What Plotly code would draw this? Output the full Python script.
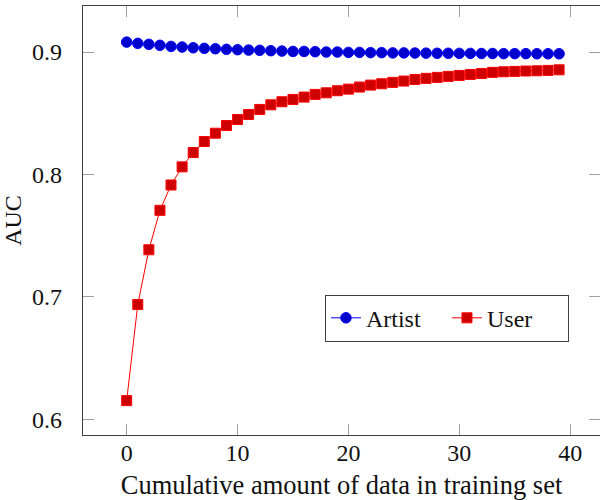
import plotly.graph_objects as go

# Cumulative amount of training data (x) and AUC per model
steps = list(range(40))

artist_auc = [
    0.9081, 0.9071, 0.9063, 0.9055, 0.9046, 0.9041, 0.9035, 0.9030, 0.9027, 0.9022,
    0.9019, 0.9016, 0.9014, 0.9011, 0.9008, 0.9005, 0.9005, 0.9003, 0.9000, 0.9000,
    0.8997, 0.8997, 0.8995, 0.8995, 0.8993, 0.8993, 0.8992, 0.8991, 0.8990, 0.8990,
    0.8989, 0.8989, 0.8988, 0.8988, 0.8987, 0.8987, 0.8987, 0.8986, 0.8986, 0.8986,
]

user_auc = [
    0.6153, 0.6938, 0.7385, 0.7707, 0.7914, 0.8062, 0.8179, 0.8269, 0.8337, 0.8400,
    0.8449, 0.8490, 0.8531, 0.8569, 0.8594, 0.8613, 0.8632, 0.8654, 0.8667, 0.8684,
    0.8697, 0.8714, 0.8730, 0.8741, 0.8752, 0.8763, 0.8776, 0.8785, 0.8793, 0.8801,
    0.8809, 0.8817, 0.8825, 0.8834, 0.8839, 0.8842, 0.8845, 0.8847, 0.8850, 0.8855,
]

x_ticks = [0, 10, 20, 30, 40]
y_ticks = [0.6, 0.7, 0.8, 0.9]
y_tick_text = ["0.6", "0.7", "0.8", "0.9"]

FONT = "Liberation Serif"

fig = go.Figure()
fig.add_trace(go.Scatter(
    x=steps, y=artist_auc, name="Artist", mode="lines+markers",
    line=dict(color="#0000ff", width=1),
    marker=dict(symbol="circle", size=10.5, color="#0000cc",
                line=dict(color="#0000ff", width=1)),
))
fig.add_trace(go.Scatter(
    x=steps, y=user_auc, name="User", mode="lines+markers",
    line=dict(color="#ff0000", width=1),
    marker=dict(symbol="square", size=10, color="#cc0000",
                line=dict(color="#ff0000", width=1)),
))

axis_common = dict(
    showline=True, linecolor="#404040", linewidth=1.3,
    mirror="ticks", ticks="inside", ticklen=11, tickwidth=1, tickcolor="#a0a0a0",
    showgrid=False, zeroline=False,
    tickfont=dict(family=FONT, size=24, color="#111"),
)

fig.update_layout(
    width=600, height=500,
    margin=dict(l=83, r=0, t=6, b=65),
    paper_bgcolor="white", plot_bgcolor="white",
    font=dict(family=FONT, size=24, color="#111"),
    xaxis=dict(
        range=[-3.94, 42.69], tickvals=x_ticks, ticklabelstandoff=-4,
        title=dict(text="Cumulative amount of data in training set",
                   font=dict(family=FONT, size=26.5), standoff=12),
        **axis_common,
    ),
    yaxis=dict(
        range=[0.5872, 0.9376], tickvals=y_ticks, ticktext=y_tick_text,
        ticklabelstandoff=15,
        title=dict(text="AUC", font=dict(family=FONT, size=24), standoff=4),
        **axis_common,
    ),
    legend=dict(
        orientation="h", x=0.468, y=0.327, xanchor="left", yanchor="top",
        bgcolor="white", bordercolor="#404040", borderwidth=1,
        font=dict(family=FONT, size=24), itemwidth=30,
        entrywidth=76, entrywidthmode="pixels",
    ),
)

fig.write_html("out.html")
